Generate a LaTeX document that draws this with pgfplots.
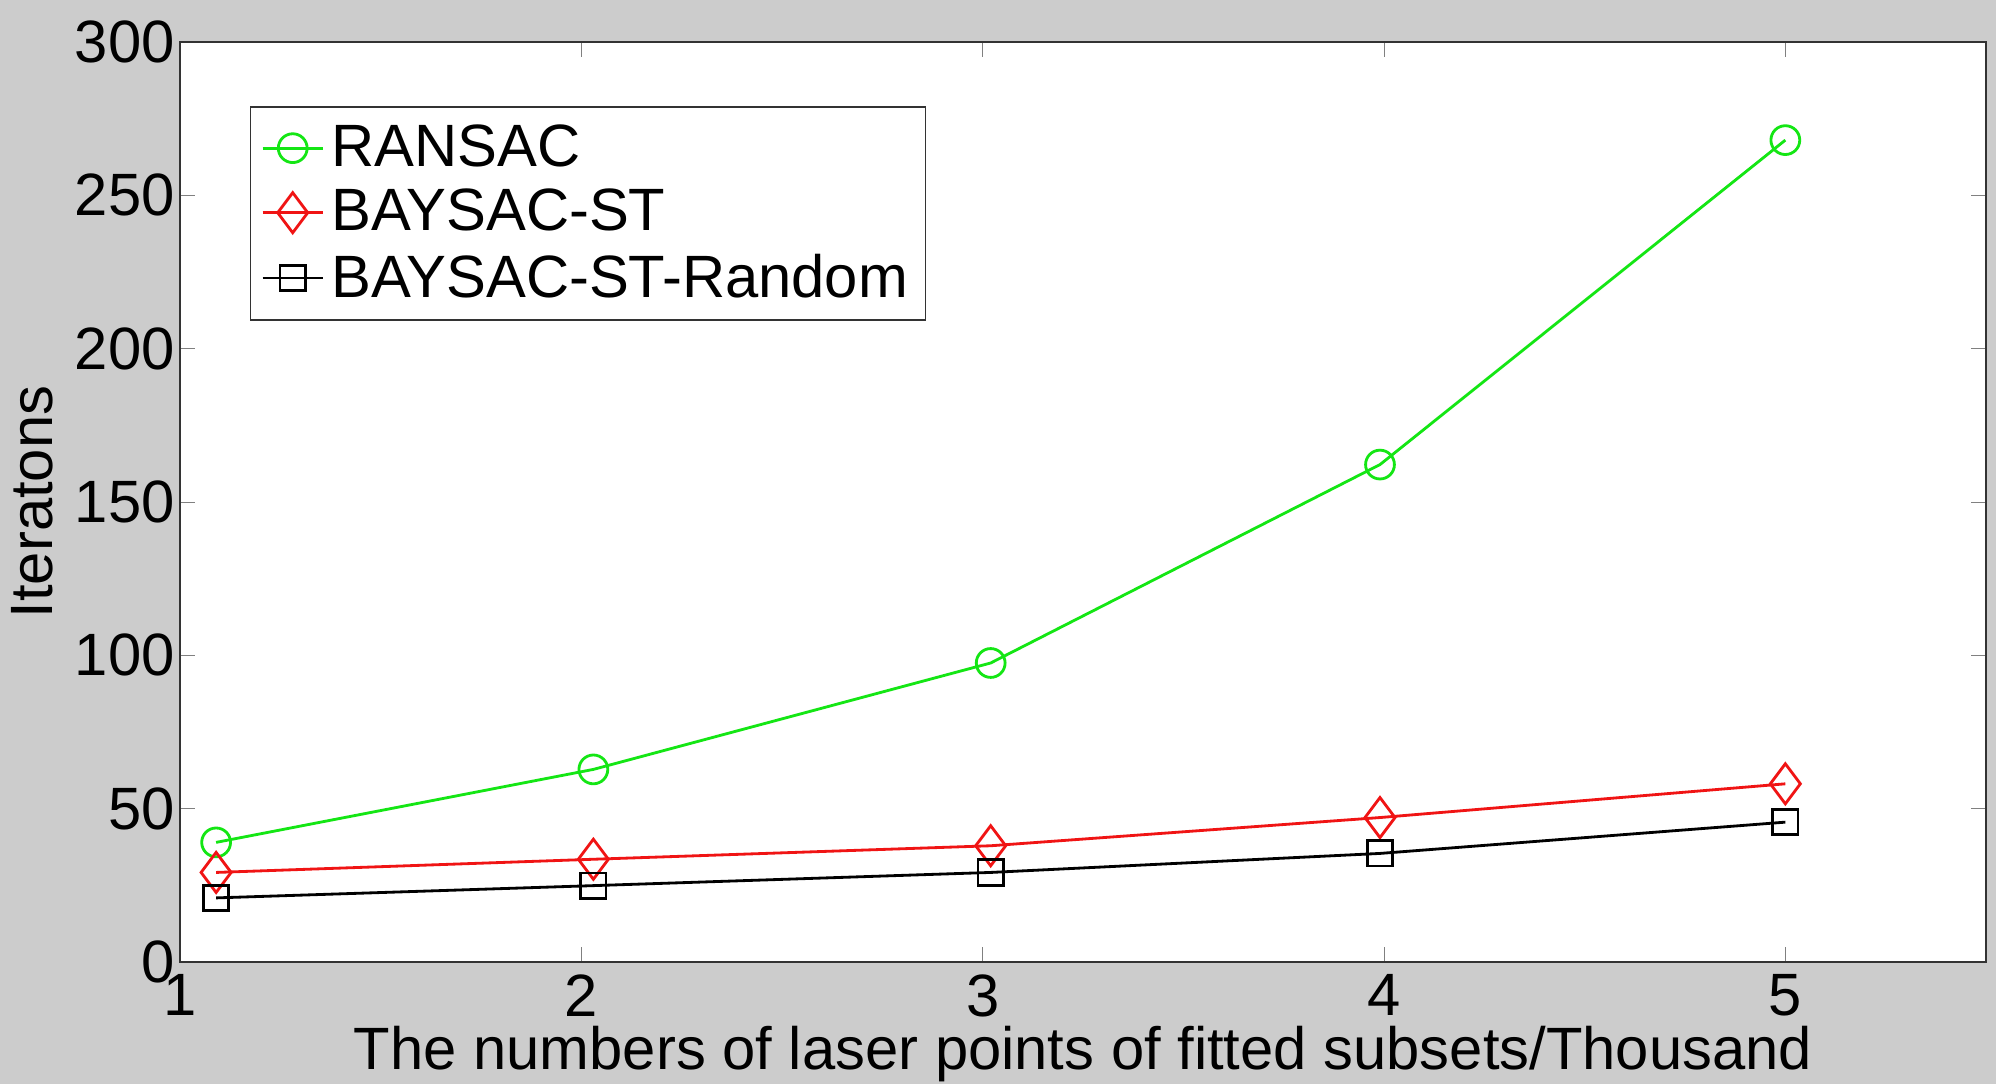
\documentclass[border=0pt]{standalone}
\usepackage{fontspec}
\setmainfont{Liberation Sans}
\usepackage{pgfplots}
\pgfplotsset{compat=1.18}
\usetikzlibrary{backgrounds,calc}

\definecolor{bggray}{RGB}{204,204,204}
\definecolor{rgreen}{RGB}{20,230,20}
\definecolor{bred}{RGB}{240,20,20}
\newcommand{\fs}{\fontsize{17}{20}\selectfont}

\begin{document}
\begin{tikzpicture}
  \begin{axis}[
    scale only axis,
    width=18.06cm, height=9.2cm,
    xmin=1, xmax=5.5, ymin=0, ymax=300,
    xtick={1,2,3,4,5},
    ytick={0,50,100,150,200,250,300},
    tick align=inside,
    axis background/.style={fill=white},
    axis line style={black!80},
    /pgf/number format/assume math mode=true,
    tick label style={font=\fs},
    yticklabel style={xshift=2pt},
    xlabel={The numbers of laser points of fitted subsets/Thousand},
    ylabel={Iteratons},
    xlabel style={font=\fs, at={(axis description cs:0.5,-0.1)}, anchor=center, inner sep=0pt},
    ylabel style={font=\fs, at={(axis description cs:-0.082,0.5)}, anchor=center, inner sep=0pt},
    legend style={at={(0.0388,0.93)}, anchor=north west, font=\fs,
      draw=black!80, inner sep=3pt, row sep=1pt},
    legend cell align=left,
  ]
  \addplot[rgreen, line width=0.8pt, mark=o, mark size=4.1pt]
    coordinates {(1.09,39)(2.03,62.8)(3.02,97.5)(3.99,162.2)(5.0,268)};
  \addlegendentry{RANSAC}
  \addplot[bred, line width=0.8pt, mark=diamond, mark size=5.7pt]
    coordinates {(1.09,29.2)(2.03,33.5)(3.02,37.9)(3.99,47.1)(5.0,58.1)};
  \addlegendentry{BAYSAC-ST}
  \addplot[black, line width=0.8pt, mark=square, mark size=3.6pt]
    coordinates {(1.09,20.9)(2.03,24.9)(3.02,29.2)(3.99,35.4)(5.0,45.6)};
  \addlegendentry{BAYSAC-ST-Random}
  \end{axis}
  \pgfresetboundingbox
  \begin{pgfonlayer}{background}
    \fill[bggray] ($(current axis.south west)+(-1.8cm,-1.22cm)$)
      rectangle ($(current axis.north east)+(0.1cm,0.42cm)$);
  \end{pgfonlayer}
  \path[use as bounding box] ($(current axis.south west)+(-1.8cm,-1.22cm)$)
    rectangle ($(current axis.north east)+(0.1cm,0.42cm)$);
\end{tikzpicture}
\end{document}
